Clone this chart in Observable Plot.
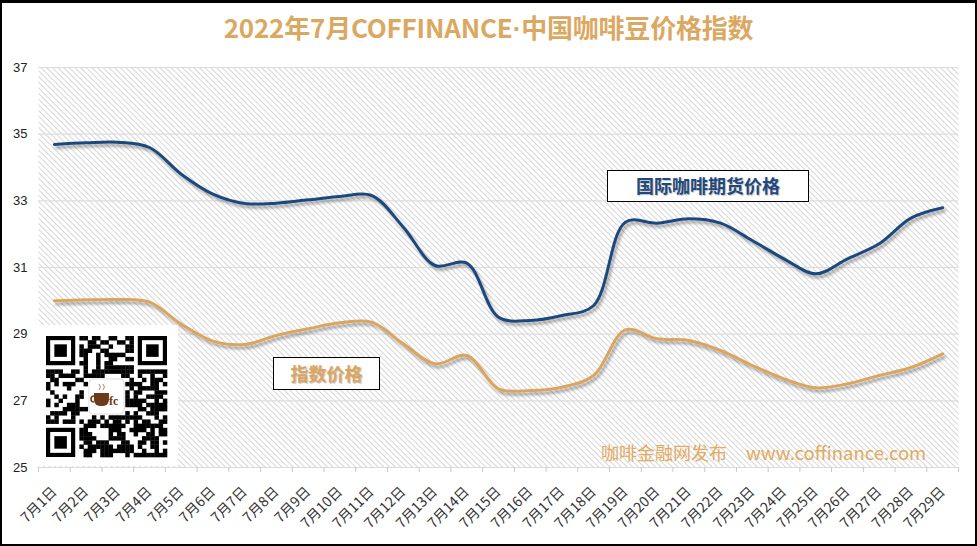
<!DOCTYPE html>
<html><head><meta charset="utf-8">
<script src="https://cdn.jsdelivr.net/npm/d3@7"></script>
<script src="https://cdn.jsdelivr.net/npm/@observablehq/plot@0.6"></script>
<style>
body{margin:0;background:#fff;}
#wrap{position:relative;width:977px;height:546px;overflow:hidden;background:#fff;font-family:"Noto Sans CJK SC","Microsoft YaHei",sans-serif;}
#title{height:50px;line-height:54px;text-align:center;font-size:26px;font-weight:bold;color:#DBA862;letter-spacing:-0.2px;}
#title .dot{font-family:"Liberation Sans",Arial,sans-serif;}
#chart{position:absolute;left:0;top:50px;}
#border{position:absolute;left:0;top:0;width:977px;height:546px;box-sizing:border-box;border:2px solid #000;border-top-width:3px;pointer-events:none;}
.box{position:absolute;background:#fff;border:1.5px solid #000;box-sizing:border-box;text-align:center;font-weight:bold;font-size:18px;text-shadow:1px 1px 1px rgba(0,0,0,0.25);}
.wm{position:absolute;font-size:18px;color:#E2AA62;line-height:22px;white-space:nowrap;}
#qr{position:absolute;left:38px;top:325px;width:140px;height:141px;background:#fff;}
</style></head>
<body>
<div id="wrap">
  <div id="title">2022年7月COFFINANCE<span class="dot">·</span>中国咖啡豆价格指数</div>
  <div id="chart"></div>
  <div class="box" style="left:607px;top:170px;width:202px;height:32px;line-height:29px;color:#1F497D;">国际咖啡期货价格</div>
  <div class="box" style="left:273px;top:357px;width:107px;height:33px;line-height:30px;color:#DBA560;">指数价格</div>
  <div class="wm" style="left:601px;top:441px;">咖啡金融网发布</div>
  <div class="wm" style="left:746px;top:441px;font-size:18.5px;">www.coffinance.com</div>
  <div id="qr"></div>
  <div id="border"></div>
</div>
<script>
const days = [1,2,3,4,5,6,7,8,9,10,11,12,13,14,15,16,17,18,19,20,21,22,23,24,25,26,27,28,29];
const futures = [34.69,34.74,34.76,34.60,33.80,33.20,32.92,32.93,33.03,33.13,33.16,32.21,31.06,31.13,29.51,29.41,29.56,29.86,32.36,32.33,32.46,32.33,31.81,31.26,30.81,31.26,31.71,32.48,32.79];
const indexPrice = [30.00,30.03,30.04,29.96,29.30,28.79,28.69,28.96,29.16,29.34,29.36,28.71,28.11,28.36,27.36,27.31,27.41,27.76,29.13,28.86,28.81,28.51,28.06,27.66,27.39,27.51,27.76,28.00,28.41];
const yTicks = [25,27,29,31,33,35,37];
const monthLabel = "7月";

const data = days.map((d,i)=>({day:d, futures:futures[i], index:indexPrice[i]}));
const bounds = [days[0]-0.5, ...days.map(d=>d+0.5)];

const chart = Plot.plot({
  width: 977, height: 496,
  marginTop: 17, marginBottom: 79, marginLeft: 38, marginRight: 19,
  style: {fontFamily: '"Noto Sans CJK SC", sans-serif', background: "transparent", overflow: "visible"},
  x: {type: "linear", domain: [bounds[0], bounds[bounds.length-1]]},
  y: {domain: [yTicks[0], yTicks[yTicks.length-1]]},
  marks: [
    Plot.frame({fill: "url(#hatch)", stroke: null}),
    Plot.gridY(yTicks, {stroke: "#dcdcdc", strokeOpacity: 1, strokeWidth: 1.2}),
    Plot.axisY(yTicks, {tickSize: 0, tickPadding: 11, fontSize: 13, label: null, fill: "#222", fontFamily: '"Liberation Sans", Arial, sans-serif'}),
    Plot.axisX(bounds, {tickSize: 5, tickFormat: () => "", stroke: "#c8c8c8", label: null}),
    Plot.axisX(days, {tickSize: 0, tickRotate: -45, tickPadding: 22, tickFormat: d => `${monthLabel}${d}日`, fontSize: 14, label: null, fill: "#333"}),
    Plot.lineY(data, {x: "day", y: "futures", stroke: "#1F497D", strokeWidth: 3, curve: "catmull-rom"}),
    Plot.lineY(data, {x: "day", y: "index", stroke: "#DBA560", strokeWidth: 3, curve: "catmull-rom"})
  ]
});
const ns = "http://www.w3.org/2000/svg";
const defs = document.createElementNS(ns, "defs");
defs.innerHTML = `<pattern id="hatch" patternUnits="userSpaceOnUse" width="4" height="4" patternTransform="rotate(-45)"><rect width="4" height="4" fill="#fff"/><line x1="0.5" y1="0" x2="0.5" y2="4" stroke="#d6d6d6" stroke-width="1"/></pattern><filter id="shadow" filterUnits="userSpaceOnUse" x="0" y="0" width="977" height="546"><feDropShadow dx="2" dy="3" stdDeviation="1.6" flood-color="#000" flood-opacity="0.35"/></filter>`;
chart.insertBefore(defs, chart.firstChild);
chart.querySelectorAll('g[aria-label="line"] path').forEach(p => p.setAttribute("filter", "url(#shadow)"));
document.getElementById("chart").appendChild(chart);

// decorative QR-like code
(function(){
  const N = 29, s = 121/29, off = 8, offY = 11;
  let out = `<svg width="140" height="141" xmlns="${ns}">`;
  const finder = (r0,c0) => {
    out += `<rect x="${off+c0*s}" y="${offY+r0*s}" width="${7*s}" height="${7*s}" fill="#000"/>`;
    out += `<rect x="${off+(c0+1)*s}" y="${offY+(r0+1)*s}" width="${5*s}" height="${5*s}" fill="#fff"/>`;
    out += `<rect x="${off+(c0+2)*s}" y="${offY+(r0+2)*s}" width="${3*s}" height="${3*s}" fill="#000"/>`;
  };
  for (let r=0;r<N;r++) for (let c=0;c<N;c++){
    const inF = (r<8&&c<8)||(r<8&&c>=N-8)||(r>=N-8&&c<8);
    const inLogo = r>=10&&r<=18&&c>=10&&c<=18;
    if (inF||inLogo) continue;
    const h = ((r*73856093) ^ (c*19349663) ^ (r*c*83492791)) >>> 0;
    if (h % 11 < 6) out += `<rect x="${off+c*s}" y="${offY+r*s}" width="${s+0.3}" height="${s+0.3}" fill="#000"/>`;
  }
  finder(0,0); finder(0,N-7); finder(N-7,0);
  const lx = off+10.3*s, ly = offY+10.3*s, lw = 8.4*s;
  out += `<rect x="${lx}" y="${ly}" width="${lw}" height="${lw}" rx="4" fill="#fff" stroke="#ddd"/>`;
  out += `<path d="M${lx+5} ${ly+14} h15 v7 a6 6 0 0 1 -6 6 h-3 a6 6 0 0 1 -6 -6 z" fill="#6b3a1a"/>`;
  out += `<path d="M${lx+5} ${ly+17} a3 3 0 0 0 0 6" stroke="#6b3a1a" stroke-width="1.5" fill="none"/>`;
  out += `<path d="M${lx+10} ${ly+11} q3 -3 0 -6 M${lx+14} ${ly+11} q3 -3 0 -6" stroke="#b08060" stroke-width="1" fill="none"/>`;
  out += `<text x="${lx+20}" y="${ly+26}" font-size="12" font-weight="bold" fill="#6b3a1a" font-family="serif">fc</text>`;
  out += `</svg>`;
  document.getElementById("qr").innerHTML = out;
})();
</script>
</body></html>
